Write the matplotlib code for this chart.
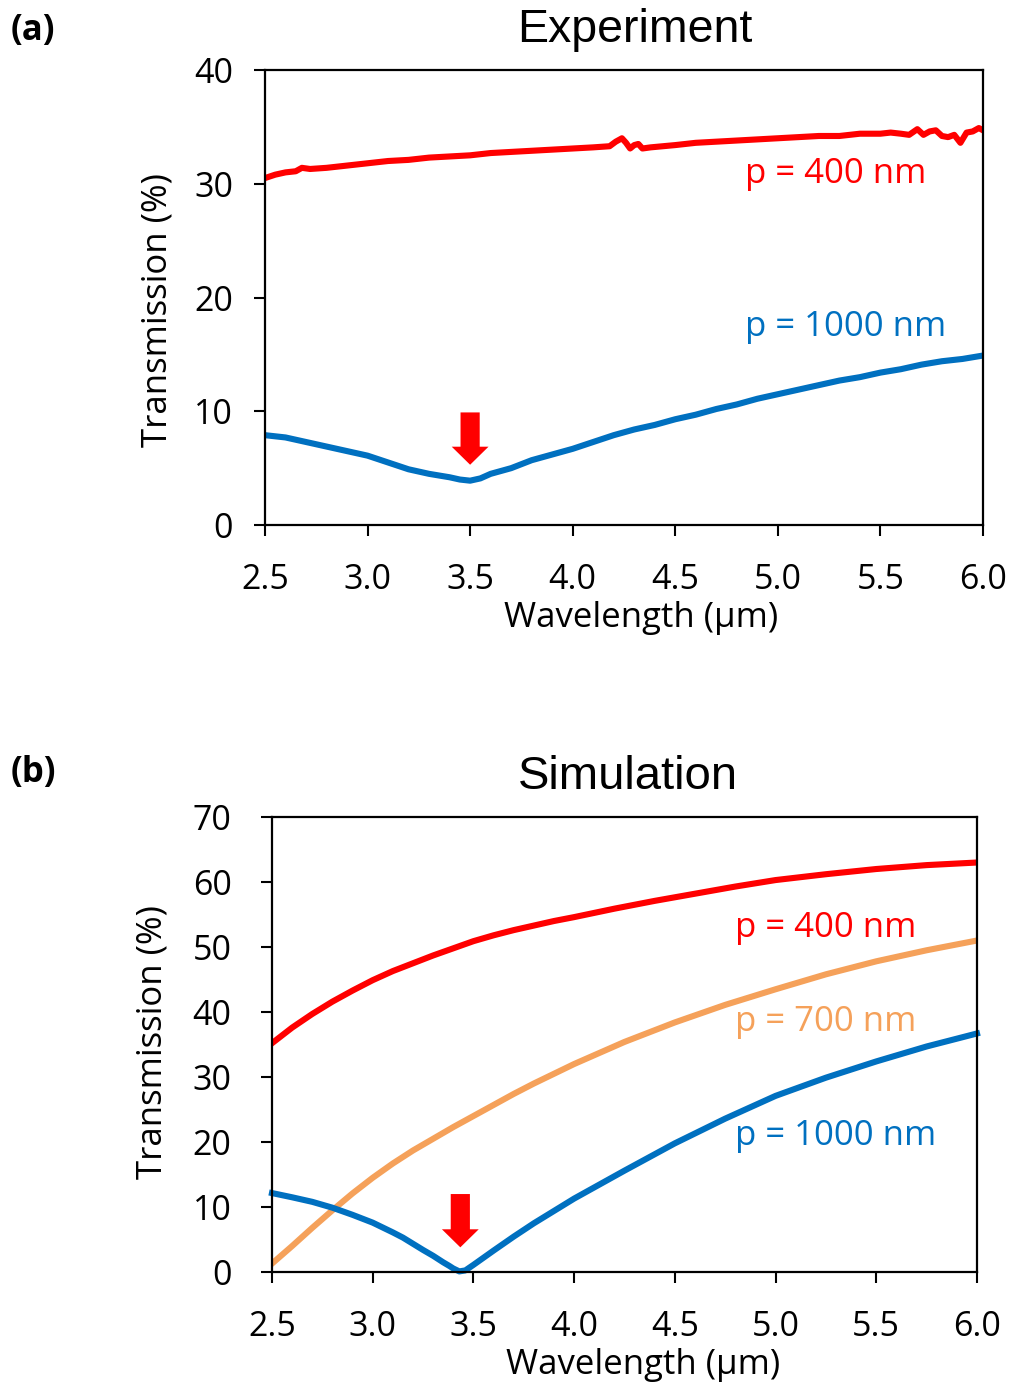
import matplotlib
import matplotlib.pyplot as plt

matplotlib.use("Agg")

plt.rcParams["font.family"] = ["Open Sans", "DejaVu Sans"]

RED = "#FF0000"
BLUE = "#0070C0"
ORANGE = "#F5A15A"

# (a) experiment
exp_red_x = [2.50, 2.55, 2.60, 2.65, 2.68, 2.72, 2.80, 2.90, 3.00, 3.10, 3.20, 3.30,
             3.40, 3.50, 3.60, 3.70, 3.80, 3.90, 4.00, 4.10, 4.18, 4.21, 4.24, 4.26,
             4.28, 4.30, 4.32, 4.34, 4.38, 4.50, 4.60, 4.70, 4.80, 4.90, 5.00, 5.10,
             5.20, 5.30, 5.40, 5.50, 5.55, 5.60, 5.64, 5.68, 5.71, 5.74, 5.77, 5.80,
             5.83, 5.86, 5.89, 5.92, 5.95, 5.98, 6.00]
exp_red_y = [30.5, 30.8, 31.0, 31.1, 31.4, 31.3, 31.4, 31.6, 31.8, 32.0, 32.1, 32.3,
             32.4, 32.5, 32.7, 32.8, 32.9, 33.0, 33.1, 33.2, 33.3, 33.7, 34.0, 33.6,
             33.1, 33.4, 33.5, 33.1, 33.2, 33.4, 33.6, 33.7, 33.8, 33.9, 34.0, 34.1,
             34.2, 34.2, 34.4, 34.4, 34.5, 34.4, 34.3, 34.8, 34.3, 34.6, 34.7, 34.2,
             34.1, 34.3, 33.6, 34.5, 34.6, 34.9, 34.7]

exp_blue_x = [2.50, 2.60, 2.70, 2.80, 2.90, 3.00, 3.10, 3.20, 3.30, 3.40, 3.45, 3.50,
              3.55, 3.60, 3.70, 3.80, 3.90, 4.00, 4.10, 4.20, 4.30, 4.40, 4.50, 4.60,
              4.70, 4.80, 4.90, 5.00, 5.10, 5.20, 5.30, 5.40, 5.50, 5.60, 5.70, 5.80,
              5.90, 6.00]
exp_blue_y = [7.9, 7.7, 7.3, 6.9, 6.5, 6.1, 5.5, 4.9, 4.5, 4.2, 4.0, 3.9,
              4.1, 4.5, 5.0, 5.7, 6.2, 6.7, 7.3, 7.9, 8.4, 8.8, 9.3, 9.7,
              10.2, 10.6, 11.1, 11.5, 11.9, 12.3, 12.7, 13.0, 13.4, 13.7, 14.1, 14.4,
              14.6, 14.9]

# (b) simulation
sim_red_x = [2.5, 2.6, 2.7, 2.8, 2.9, 3.0, 3.1, 3.2, 3.3, 3.4, 3.5, 3.6, 3.7, 3.8,
             3.9, 4.0, 4.2, 4.4, 4.6, 4.8, 5.0, 5.25, 5.5, 5.75, 6.0]
sim_red_y = [35.2, 37.6, 39.7, 41.6, 43.3, 44.9, 46.3, 47.5, 48.7, 49.8, 50.9, 51.8,
             52.6, 53.3, 54.0, 54.6, 55.9, 57.1, 58.2, 59.3, 60.3, 61.2, 62.0, 62.6, 63.0]

sim_orange_x = [2.5, 2.6, 2.7, 2.8, 2.9, 3.0, 3.1, 3.2, 3.3, 3.4, 3.5, 3.6, 3.7, 3.8,
                3.9, 4.0, 4.25, 4.5, 4.75, 5.0, 5.25, 5.5, 5.75, 6.0]
sim_orange_y = [1.3, 4.0, 6.8, 9.5, 12.1, 14.5, 16.7, 18.7, 20.5, 22.3, 24.0, 25.7,
                27.4, 29.0, 30.5, 32.0, 35.4, 38.4, 41.1, 43.5, 45.8, 47.8, 49.5, 51.0]

sim_blue_x = [2.5, 2.6, 2.7, 2.8, 2.9, 3.0, 3.1, 3.15, 3.2, 3.25, 3.3, 3.35, 3.38,
              3.40, 3.43, 3.46, 3.5, 3.55, 3.6, 3.7, 3.8, 3.9, 4.0, 4.25, 4.5, 4.75,
              5.0, 5.25, 5.5, 5.75, 6.0]
sim_blue_y = [12.15, 11.5, 10.8, 9.9, 8.8, 7.6, 6.1, 5.3, 4.35, 3.4, 2.5, 1.5, 0.95,
              0.55, 0.1, 0.25, 1.1, 2.2, 3.3, 5.45, 7.5, 9.4, 11.3, 15.6, 19.8, 23.6,
              27.1, 29.9, 32.4, 34.7, 36.7]

x_ticks = [2.5, 3.0, 3.5, 4.0, 4.5, 5.0, 5.5, 6.0]


def style_axes(ax, ymax, ypad):
    ax.set_xlim(2.5, 6.0)
    ax.set_ylim(0, ymax)
    ax.set_xticks(x_ticks)
    ax.set_xticklabels([f"{t:.1f}" for t in x_ticks])
    ax.set_yticks(range(0, ymax + 1, 10))
    for side in ax.spines.values():
        side.set_linewidth(1.6)
    ax.tick_params(axis="both", direction="out", length=8, width=1.5, labelsize=24.5)
    ax.tick_params(axis="x", pad=19)
    ax.tick_params(axis="y", pad=ypad)
    ax.set_xlabel("Wavelength (μm)", fontsize=25, va="center")
    ax.set_ylabel("Transmission (%)", fontsize=25, va="center")


def add_arrow(ax, x, y_top, y_tip):
    ax.annotate("", xy=(x, y_tip), xytext=(x, y_top),
                arrowprops=dict(arrowstyle="simple,head_width=2.65,head_length=1.3,tail_width=1.38",
                                mutation_scale=10, color=RED, shrinkA=0, shrinkB=0, lw=0))


def main() -> None:
    fig = plt.figure(figsize=(10.16, 13.89), dpi=100)

    ax_a = fig.add_axes([0.2608, 0.6220, 0.7067, 0.3276])
    ax_a.plot(exp_red_x, exp_red_y, color=RED, lw=4.4)
    ax_a.plot(exp_blue_x, exp_blue_y, color=BLUE, lw=4.4)
    add_arrow(ax_a, 3.5, 9.9, 5.3)
    ax_a.text(4.84, 30.9, "p = 400 nm", color=RED, fontsize=25, va="center")
    ax_a.text(4.84, 17.4, "p = 1000 nm", color=BLUE, fontsize=25, va="center")
    style_axes(ax_a, 40, 15)
    ax_a.xaxis.set_label_coords(0.524, -0.204)
    ax_a.yaxis.set_label_coords(-0.149, 0.4725)

    ax_b = fig.add_axes([0.2677, 0.0842, 0.6939, 0.3276])
    ax_b.plot(sim_orange_x, sim_orange_y, color=ORANGE, lw=4.4)
    ax_b.plot(sim_blue_x, sim_blue_y, color=BLUE, lw=4.4, clip_on=False)
    ax_b.plot(sim_red_x, sim_red_y, color=RED, lw=4.4)
    add_arrow(ax_b, 3.435, 12.0, 3.8)
    ax_b.text(4.80, 52.9, "p = 400 nm", color=RED, fontsize=25, va="center")
    ax_b.text(4.80, 38.5, "p = 700 nm", color=ORANGE, fontsize=25, va="center")
    ax_b.text(4.80, 21.0, "p = 1000 nm", color=BLUE, fontsize=25, va="center")
    style_axes(ax_b, 70, 21)
    ax_b.xaxis.set_label_coords(0.526, -0.204)
    ax_b.yaxis.set_label_coords(-0.170, 0.505)

    fig.text(0.625, 0.9784, "Experiment", fontsize=33.5, family="Liberation Sans",
             ha="center", va="center")
    fig.text(0.618, 0.4406, "Simulation", fontsize=34, family="Liberation Sans",
             ha="center", va="center")
    fig.text(0.01, 0.978, "(a)", fontsize=25, fontweight="bold", va="center")
    fig.text(0.01, 0.4435, "(b)", fontsize=25, fontweight="bold", va="center")

    fig.savefig("out.png", dpi=100)
    plt.close(fig)


if __name__ == "__main__":
    main()
